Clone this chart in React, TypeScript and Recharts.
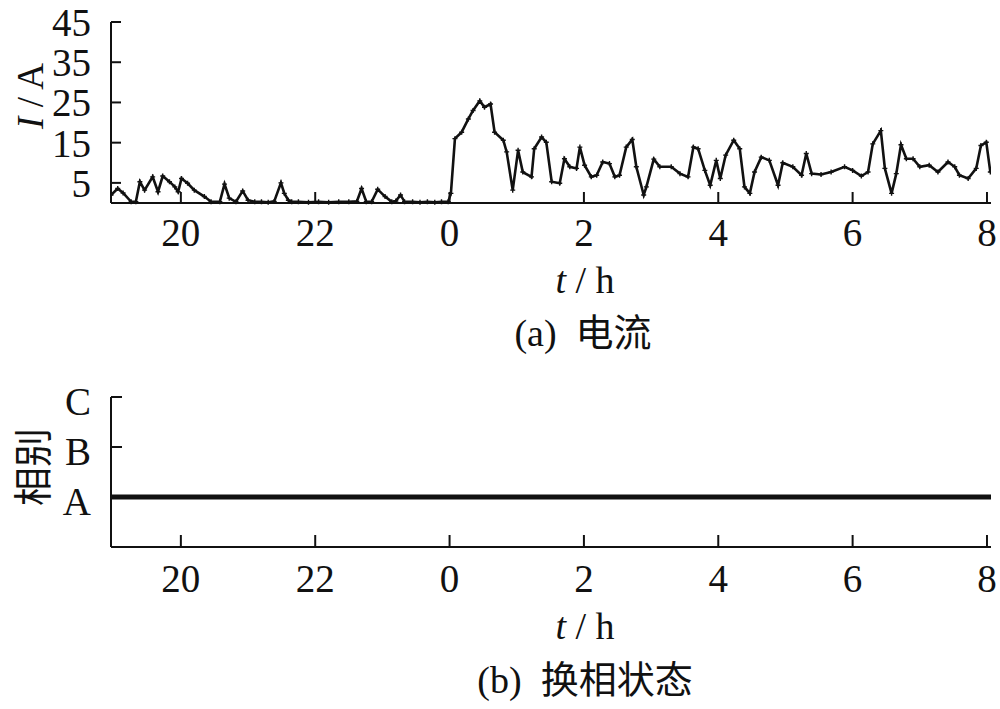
import { LineChart, Line, XAxis, YAxis, Label } from 'recharts';

// time in clock hours, continuing past midnight (24 = 0:00, 32 = 8:00)
const hours = [
  18.96, 19.06, 19.14, 19.26, 19.33, 19.39, 19.46, 19.58, 19.66, 19.73,
  19.83, 19.91, 19.96, 20.01, 20.1, 20.2, 20.35, 20.45, 20.58, 20.65,
  20.72, 20.82, 20.92, 21.0, 21.1, 21.2, 21.3, 21.39, 21.49, 21.54,
  21.6, 21.65, 21.75, 21.9, 22.05, 22.2, 22.35, 22.5, 22.62, 22.69,
  22.76, 22.84, 22.93, 23.04, 23.14, 23.2, 23.27, 23.33, 23.45, 23.56,
  23.67, 23.78, 23.88, 23.98, 24.02, 24.08, 24.18, 24.28, 24.35, 24.45,
  24.52, 24.61, 24.67, 24.8, 24.85, 24.94, 25.02, 25.09, 25.22, 25.26,
  25.37, 25.44, 25.52, 25.64, 25.71, 25.79, 25.89, 25.94, 26.01, 26.11,
  26.19, 26.28, 26.38, 26.46, 26.53, 26.63, 26.72, 26.78, 26.89, 26.93,
  27.04, 27.13, 27.3, 27.43, 27.55, 27.63, 27.7, 27.8, 27.88, 27.97,
  28.03, 28.11, 28.23, 28.32, 28.39, 28.47, 28.54, 28.64, 28.76, 28.89,
  28.96, 29.11, 29.24, 29.31, 29.39, 29.53, 29.68, 29.88, 30.0, 30.13,
  30.23, 30.3, 30.42, 30.48, 30.58, 30.65, 30.72, 30.8, 30.9, 31.0,
  31.14, 31.27, 31.42, 31.52, 31.59, 31.72, 31.84, 31.91, 31.99, 32.05,
];

// current, A
const current = [
  2.0, 3.6, 2.5, 0.3, 0.3, 5.3, 3.2, 6.5, 2.8, 6.7,
  5.3, 4.0, 2.8, 6.1, 4.9, 3.2, 1.6, 0.3, 0.3, 4.7,
  1.2, 0.3, 3.0, 0.7, 0.3, 0.3, 0.2, 0.4, 5.0, 2.4,
  0.7, 0.3, 0.3, 0.2, 0.3, 0.2, 0.3, 0.3, 0.4, 3.6,
  0.3, 0.3, 3.4, 1.6, 0.3, 0.5, 2.0, 0.3, 0.3, 0.2,
  0.3, 0.2, 0.3, 0.3, 2.4, 16.0, 17.6, 20.9, 23.0, 25.4,
  23.8, 24.6, 17.6, 15.6, 12.7, 3.2, 13.1, 7.7, 6.5, 13.5,
  16.4, 15.1, 5.3, 4.9, 11.0, 9.0, 8.6, 13.9, 9.4, 6.5,
  6.9, 10.2, 9.8, 6.5, 6.9, 13.9, 15.8, 9.0, 2.0, 4.0,
  10.9, 9.0, 9.0, 7.3, 6.5, 13.9, 13.5, 8.1, 4.4, 10.6,
  6.1, 11.9, 15.6, 13.5, 4.0, 2.4, 7.7, 11.4, 10.6, 4.4,
  10.0, 9.0, 6.9, 12.3, 7.3, 7.1, 7.7, 9.0, 8.1, 6.7,
  7.7, 14.7, 18.0, 8.6, 2.4, 7.3, 14.5, 11.0, 11.0, 9.0,
  9.4, 7.7, 10.2, 9.0, 6.9, 6.1, 8.6, 14.3, 15.1, 7.7,
];

// commutation phase state over the same night
const phaseHours = [18.96, 20, 21, 22, 23, 24, 25, 26, 27, 28, 29, 30, 31, 32.06];
const phaseState = ['A', 'A', 'A', 'A', 'A', 'A', 'A', 'A', 'A', 'A', 'A', 'A', 'A', 'A'];

const timeTicks = [20, 22, 24, 26, 28, 30, 32];
const currentTicks = [5, 15, 25, 35, 45];
const phaseLevels = ['', 'A', 'B', 'C'];
const phaseTicks = [1, 2, 3];

const currentData = hours.map((h, i) => ({ h, value: current[i] }));
const phaseData = phaseHours.map((h, i) => ({ h, level: phaseLevels.indexOf(phaseState[i]) }));

const FONT = "'Liberation Serif', 'Times New Roman', 'Noto Sans CJK SC', serif";
const CJK = "'Noto Sans CJK SC', sans-serif";
const INK = '#111';
const GAP = '\u00a0\u00a0';

const tickStyle = { fill: INK, fontSize: 39, fontFamily: FONT };

const PlusDot = (props: any) => {
  const { cx, cy, index } = props;
  if (cx == null || cy == null) return null;
  return (
    <path
      key={`d-${index}`}
      d={`M${cx - 2.5},${cy}h5M${cx},${cy - 2.5}v5`}
      stroke={INK}
      strokeWidth={1.4}
    />
  );
};

export default function App() {
  return (
    <div style={{ position: 'absolute', left: 0, top: 0, width: 1000, height: 709, background: '#fff' }}>
      {/* (a) current */}
      <div style={{ position: 'absolute', left: 0, top: 0 }}>
        <LineChart width={1000} height={360} data={currentData} margin={{ top: 22, right: 9, bottom: 0, left: 0 }}>
          <XAxis
            dataKey="h"
            type="number"
            domain={[18.96, 32.06]}
            allowDataOverflow
            ticks={timeTicks}
            tickFormatter={(v: number) => String(v % 24)}
            height={157}
            axisLine={{ stroke: INK, strokeWidth: 2 }}
            tickLine={{ stroke: INK, strokeWidth: 2 }}
            tickSize={-11}
            tickMargin={26}
            tick={tickStyle}
            interval={0}
          >
            <Label
              content={() => (
                <g>
                  <text x={585} y={293} textAnchor="middle" fontSize={38} fontFamily={FONT} fill={INK}>
                    <tspan fontStyle="italic">t</tspan> / h
                  </text>
                  <text x={583} y={346} textAnchor="middle" fontSize={38} fontFamily={FONT} fill={INK}>
                    (a){GAP}<tspan fontFamily={CJK}>电流</tspan>
                  </text>
                </g>
              )}
            />
          </XAxis>
          <YAxis
            type="number"
            domain={[0, 45]}
            ticks={currentTicks}
            width={111}
            axisLine={{ stroke: INK, strokeWidth: 2 }}
            tickLine={{ stroke: INK, strokeWidth: 2 }}
            tickSize={-10}
            tickMargin={30}
            tick={tickStyle}
            interval={0}
          >
            <Label
              content={() => (
                <text
                  x={30}
                  y={96}
                  transform="rotate(-90, 30, 96)"
                  textAnchor="middle"
                  dominantBaseline="central"
                  fontSize={37}
                  fontFamily={FONT}
                  fill={INK}
                >
                  <tspan fontStyle="italic">I</tspan> / A
                </text>
              )}
            />
          </YAxis>
          <Line
            type="linear"
            dataKey="value"
            stroke={INK}
            strokeWidth={2.6}
            dot={PlusDot}
            activeDot={false}
            isAnimationActive={false}
          />
        </LineChart>
      </div>

      {/* (b) commutation state */}
      <div style={{ position: 'absolute', left: 0, top: 360 }}>
        <LineChart width={1000} height={349} data={phaseData} margin={{ top: 37, right: 9, bottom: 0, left: 0 }}>
          <XAxis
            dataKey="h"
            type="number"
            domain={[18.96, 32.06]}
            allowDataOverflow
            ticks={timeTicks}
            tickFormatter={(v: number) => String(v % 24)}
            height={162}
            axisLine={{ stroke: INK, strokeWidth: 2 }}
            tickLine={{ stroke: INK, strokeWidth: 2 }}
            tickSize={-12}
            tickMargin={29}
            tick={tickStyle}
            interval={0}
          >
            <Label
              content={() => (
                <g>
                  <text x={585} y={279} textAnchor="middle" fontSize={38} fontFamily={FONT} fill={INK}>
                    <tspan fontStyle="italic">t</tspan> / h
                  </text>
                  <text x={585} y={333} textAnchor="middle" fontSize={38} fontFamily={FONT} fill={INK}>
                    (b){GAP}<tspan fontFamily={CJK}>换相状态</tspan>
                  </text>
                </g>
              )}
            />
          </XAxis>
          <YAxis
            type="number"
            domain={[0, 3]}
            ticks={phaseTicks}
            tickFormatter={(v: number) => phaseLevels[v]}
            width={111}
            axisLine={{ stroke: INK, strokeWidth: 2 }}
            tickLine={{ stroke: INK, strokeWidth: 2 }}
            tickSize={-11}
            tickMargin={31}
            tick={{ ...tickStyle, dy: 4 }}
            interval={0}
          >
            <Label
              content={() => (
                <text
                  x={30}
                  y={107}
                  transform="rotate(-90, 30, 107)"
                  textAnchor="middle"
                  dominantBaseline="central"
                  fontSize={39}
                  fontFamily={CJK}
                  fill={INK}
                >
                  相别
                </text>
              )}
            />
          </YAxis>
          <Line
            type="linear"
            dataKey="level"
            stroke={INK}
            strokeWidth={5}
            dot={false}
            activeDot={false}
            isAnimationActive={false}
          />
        </LineChart>
      </div>
    </div>
  );
}
